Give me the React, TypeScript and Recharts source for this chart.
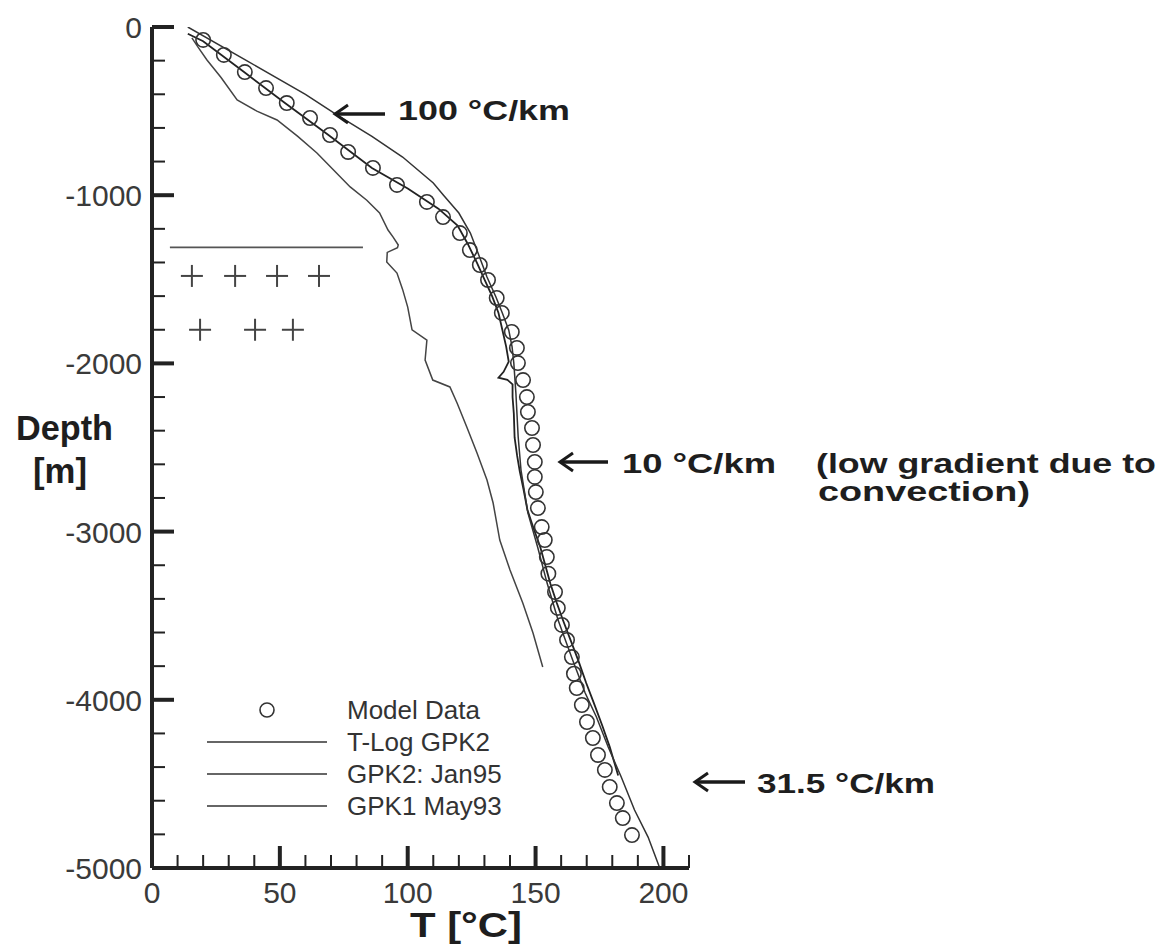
import React from "react";
import { ComposedChart, Line, Scatter, XAxis, YAxis } from "recharts";

// [T in °C, depth in m] pairs
const modelData: [number, number][] = [
  [20.0, -77], [28.1, -166], [36.3, -268], [44.6, -363], [52.7, -452],
  [61.8, -541], [69.6, -642], [76.7, -743], [86.4, -838], [95.8, -939],
  [107.5, -1040], [113.8, -1130], [120.4, -1225], [124.3, -1326], [128.2, -1415],
  [131.4, -1504], [134.8, -1611], [136.8, -1700], [140.7, -1813], [142.7, -1908],
  [143.1, -1998], [145.1, -2099], [146.6, -2200], [147.0, -2289], [148.6, -2384],
  [149.0, -2485], [149.7, -2586], [149.7, -2675], [150.1, -2765], [150.9, -2860],
  [152.4, -2973], [153.6, -3050], [154.4, -3151], [155.0, -3250], [157.6, -3359],
  [158.7, -3454], [160.3, -3555], [162.3, -3644], [164.2, -3746], [165.0, -3845],
  [166.1, -3930], [168.1, -4031], [170.1, -4132], [172.4, -4227], [174.4, -4328],
  [177.1, -4417], [179.0, -4518], [181.8, -4614], [184.1, -4703], [187.7, -4804],
];

const tlogGpk2: [number, number][] = [
  [14, 0], [37, -200], [60, -400], [72, -520], [86, -650], [98, -773],
  [110, -927], [114, -1000], [120, -1106], [124.5, -1225], [127.5, -1344],
  [131, -1486], [134.5, -1605], [137, -1700], [139.5, -1801], [140.8, -1900],
  [141.5, -2000], [142.3, -2176], [143.2, -2438], [144.3, -2634], [147, -2889],
  [150.8, -3092], [154.5, -3306], [158.8, -3526], [164.5, -3763], [169.4, -3960],
  [173.8, -4102], [178.4, -4281], [183.5, -4459], [188.7, -4655], [194, -4816],
  [198.4, -4994],
];

const gpk2Jan95: [number, number][] = [
  [14, -40], [20, -85], [36, -268], [52, -452], [69, -642], [86, -838],
  [100, -960], [112, -1080], [119.5, -1180], [123.5, -1290], [127, -1400],
  [130, -1500], [133, -1600], [135.5, -1700], [137, -1800], [138.5, -1900],
  [139.5, -1990], [137.5, -2050], [135.5, -2085], [139, -2098], [141, -2125],
  [141, -2200], [141.5, -2300], [141.8, -2440], [142.8, -2550], [143.8, -2640],
  [145.3, -2750], [146.8, -2870], [149.2, -2980], [151.8, -3090], [153.8, -3200],
  [155.8, -3310], [158.2, -3420], [160.8, -3530], [163.8, -3650], [166.8, -3770],
  [169.8, -3900], [172.8, -4020], [176, -4150], [179, -4280], [182.3, -4450],
];

const gpk1May93: [number, number][] = [
  [15.6, -65], [18, -120], [21.5, -196], [27, -300], [33.3, -434], [41, -500],
  [48.9, -553], [57, -650], [64.5, -749], [71, -850], [77.5, -951], [84, -1030],
  [89, -1106], [92.3, -1207], [94.3, -1249], [96.3, -1296], [96, -1312],
  [92, -1340], [91.8, -1397], [95.8, -1463], [98, -1560], [100, -1665],
  [101.7, -1801], [107.5, -1861], [106.8, -1980], [109.8, -2099], [116.5, -2140],
  [119.3, -2235], [123.1, -2378], [127.1, -2533], [131, -2693], [133.4, -2830],
  [136, -3050], [140, -3228], [145, -3424], [149, -3603], [152.8, -3805],
];

const layerLine: [number, number][] = [[7, -1310], [82.5, -1310]];
const crossMarks: [number, number][] = [
  [15.6, -1480], [32.5, -1480], [48.9, -1480], [65.3, -1480],
  [18.8, -1800], [40.3, -1800], [55.1, -1800],
];

const xTicks = Array.from({ length: 22 }, (_, i) => i * 10);
const yTicks = Array.from({ length: 26 }, (_, i) => -5000 + i * 200);
const legendLabels = ["Model Data", "T-Log GPK2", "GPK2: Jan95", "GPK1 May93"];

const toPts = (arr: [number, number][]) => arr.map(([t, z]) => ({ t, z }));

const XTick = (props: any) => {
  const { x, y, payload } = props;
  const v = payload.value;
  const major = v % 50 === 0;
  return (
    <g>
      <line x1={x} x2={x} y1={y} y2={y - (major ? 22 : 13)} stroke="#222" strokeWidth={major ? 4 : 2} />
      {major && (
        <text x={x} y={y + 35} textAnchor="middle" fontSize={30} fill="#3a3a3a" fontFamily="Liberation Sans, Arial, sans-serif">
          {v}
        </text>
      )}
    </g>
  );
};

const YTick = (props: any) => {
  const { x, y, payload } = props;
  const v = payload.value;
  const major = v % 1000 === 0;
  return (
    <g>
      <line x1={x} x2={x + (major ? 22 : 13)} y1={y} y2={y} stroke="#222" strokeWidth={major ? 4 : 2} />
      {major && (
        <text x={x - 10} y={y + 11} textAnchor="end" fontSize={30} fill="#3a3a3a" fontFamily="Liberation Sans, Arial, sans-serif">
          {v}
        </text>
      )}
    </g>
  );
};

const Ring = (props: any) => (
  <circle cx={props.cx} cy={props.cy} r={7.2} fill="none" stroke="#333" strokeWidth={1.6} />
);

const Plus = (props: any) => (
  <g stroke="#444" strokeWidth={2}>
    <line x1={props.cx - 11} x2={props.cx + 11} y1={props.cy} y2={props.cy} />
    <line x1={props.cx} x2={props.cx} y1={props.cy - 11} y2={props.cy + 11} />
  </g>
);

const Arrow = ({ x, y, len }: { x: number; y: number; len: number }) => (
  <g stroke="#1a1a1a" strokeWidth={3.5} fill="none">
    <line x1={x + 2} x2={x + len} y1={y} y2={y} />
    <path d={`M ${x + 13} ${y - 9} L ${x} ${y} L ${x + 13} ${y + 9}`} strokeWidth={3} />
  </g>
);

const bold = { fontFamily: "Liberation Sans, Arial, sans-serif", fontWeight: 700, fill: "#1e1e1e" } as const;

export default function App() {
  return (
    <div style={{ position: "absolute", left: 0, top: 0, width: 1165, height: 949, background: "#fff" }}>
      <ComposedChart width={1165} height={949} margin={{ top: 27, right: 476, bottom: 0, left: 0 }}>
        <XAxis
          type="number"
          dataKey="t"
          domain={[0, 210]}
          ticks={xTicks}
          interval={0}
          height={81}
          tickSize={0}
          tickMargin={0}
          tickLine={false}
          tick={<XTick />}
          axisLine={{ stroke: "#222", strokeWidth: 4 }}
          allowDataOverflow
        />
        <YAxis
          type="number"
          dataKey="z"
          domain={[-5000, 0]}
          ticks={yTicks}
          interval={0}
          width={152}
          tickSize={0}
          tickMargin={0}
          tickLine={false}
          tick={<YTick />}
          axisLine={{ stroke: "#222", strokeWidth: 4 }}
          allowDataOverflow
        />
        <Line data={toPts(gpk1May93)} dataKey="z" stroke="#444" strokeWidth={1.5} dot={false} isAnimationActive={false} />
        <Line data={toPts(gpk2Jan95)} dataKey="z" stroke="#222" strokeWidth={1.8} dot={false} isAnimationActive={false} />
        <Line data={toPts(tlogGpk2)} dataKey="z" stroke="#333" strokeWidth={1.5} dot={false} isAnimationActive={false} />
        <Line data={toPts(layerLine)} dataKey="z" stroke="#555" strokeWidth={1.8} dot={false} isAnimationActive={false} />
        <Scatter data={toPts(crossMarks)} shape={<Plus />} isAnimationActive={false} />
        <Scatter data={toPts(modelData)} shape={<Ring />} isAnimationActive={false} />
      </ComposedChart>
      <svg width={1165} height={949} style={{ position: "absolute", left: 0, top: 0, pointerEvents: "none" }}>
        {/* legend */}
        <circle cx={267} cy={710} r={7} fill="none" stroke="#333" strokeWidth={1.6} />
        {[742, 774, 806].map((ly) => (
          <line key={ly} x1={207} x2={327} y1={ly} y2={ly} stroke="#333" strokeWidth={1.6} />
        ))}
        {legendLabels.map((l, i) => (
          <text key={l} x={347} y={719 + i * 32} fontSize={26} fill="#333" fontFamily="Liberation Sans, Arial, sans-serif">
            {l}
          </text>
        ))}
        {/* annotations */}
        <Arrow x={335} y={114} len={50} />
        <text x={398} y={120} fontSize={27} textLength={172} lengthAdjust="spacingAndGlyphs" {...bold}>100 °C/km</text>
        <Arrow x={560} y={462} len={48} />
        <text x={622} y={473} fontSize={27} textLength={154} lengthAdjust="spacingAndGlyphs" {...bold}>10 °C/km</text>
        <text x={816} y={473} fontSize={27} textLength={340} lengthAdjust="spacingAndGlyphs" {...bold}>(low gradient due to</text>
        <text x={818} y={501} fontSize={27} textLength={212} lengthAdjust="spacingAndGlyphs" {...bold}>convection)</text>
        <Arrow x={695} y={782} len={50} />
        <text x={757} y={793} fontSize={27} textLength={178} lengthAdjust="spacingAndGlyphs" {...bold}>31.5 °C/km</text>
        {/* axis titles */}
        <text x={16} y={440} fontSize={35} textLength={97} lengthAdjust="spacingAndGlyphs" {...bold}>Depth</text>
        <text x={33} y={483} fontSize={35} textLength={54} lengthAdjust="spacingAndGlyphs" {...bold}>[m]</text>
        <text x={410} y={937} fontSize={35} textLength={112} lengthAdjust="spacingAndGlyphs" {...bold}>T [°C]</text>
      </svg>
    </div>
  );
}
